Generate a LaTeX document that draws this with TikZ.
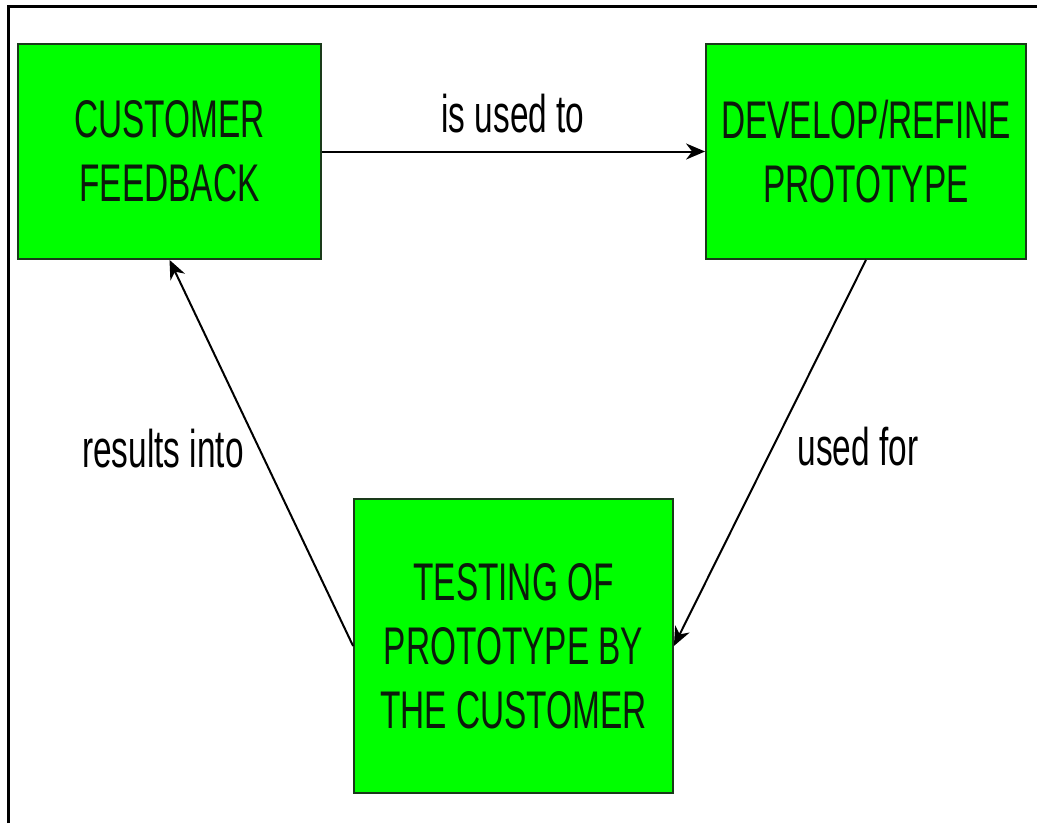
\documentclass[tikz,border=0pt]{standalone}
\usepackage{fontspec}
\setmainfont{Liberation Sans}
\newfontfamily\narrowfont[FakeStretch=0.63]{Liberation Sans}
\usepackage{tikz}
\usetikzlibrary{arrows.meta,positioning,calc}
\definecolor{boxg}{HTML}{00FF00}
\definecolor{edge}{HTML}{1A3A1A}
\definecolor{ink}{HTML}{0C1A0C}
\tikzset{
  >={Stealth[length=19pt,width=16pt,inset=6pt]},
  box/.style={draw=edge,line width=1.8pt,fill=boxg,align=center,inner sep=0pt,
    font=\fontsize{53}{64}\narrowfont\color{ink}},
  lab/.style={font=\fontsize{53}{63}\narrowfont,anchor=base},
  arr/.style={->,draw=black,line width=2pt},
}
\begin{document}
\begin{tikzpicture}[x=1pt,y=-1pt]
\useasboundingbox (0,0) rectangle (1037,823);
\draw[line width=3pt] (8,823) -- (8,6) -- (1037,6);
\node[box,minimum width=303pt,minimum height=215pt] (cf) at (169.5,151.5) {CUSTOMER\\FEEDBACK};
\node[box,minimum width=320pt,minimum height=215pt] (dr) at (866,151.5) {DEVELOP/REFINE\\PROTOTYPE};
\node[box,minimum width=319pt,minimum height=294pt] (tc) at (513.5,646) {TESTING OF\\PROTOTYPE BY\\THE CUSTOMER};
\draw[arr] (cf) -- (dr);
\draw[arr] (dr.south) -- (tc.east);
\draw[arr] (tc.west) -- (cf.south);
\node[lab] (l1) at (513,132) {is used to};
\node[lab] (l2) at (858,465) {used for};
\node[lab] (l3) at (163,467) {results into};
\end{tikzpicture}
\end{document}
